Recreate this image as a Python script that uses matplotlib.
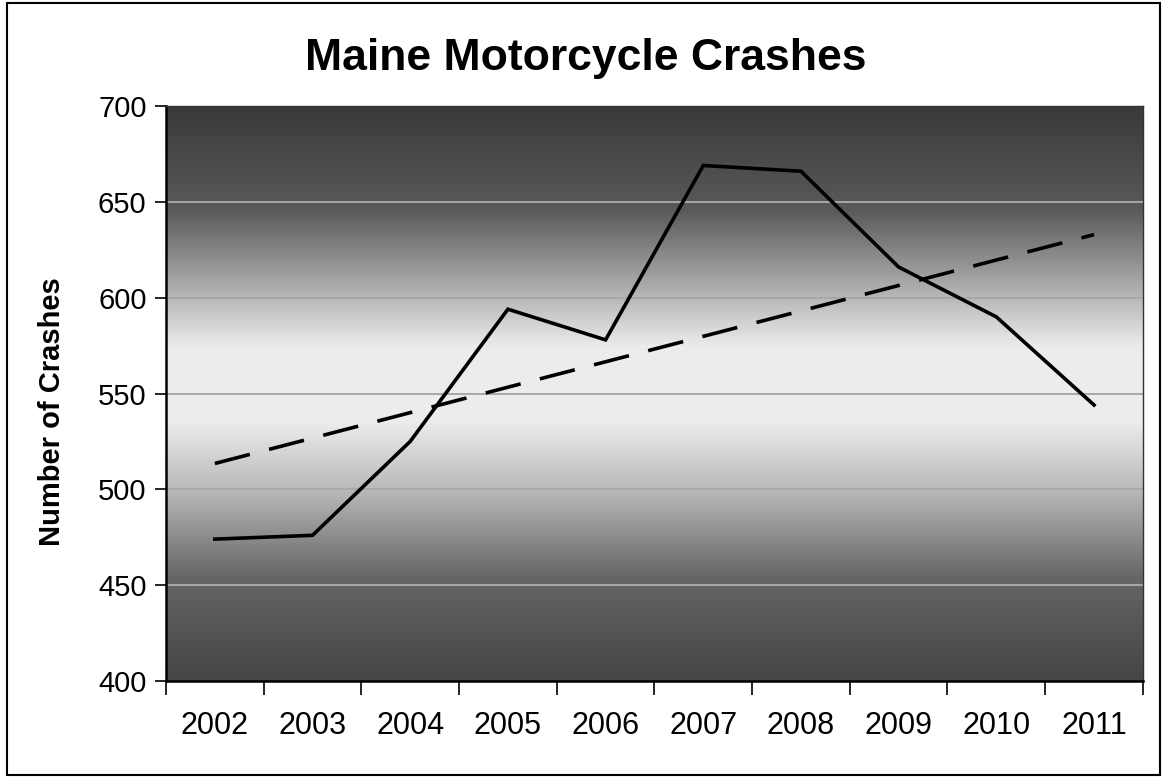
import numpy as np
import matplotlib.pyplot as plt
from matplotlib.colors import LinearSegmentedColormap
from matplotlib.patches import Rectangle

years = ['2002', '2003', '2004', '2005', '2006', '2007', '2008', '2009', '2010', '2011']
crashes = [474, 476, 525, 594, 578, 669, 666, 616, 590, 544]

plt.rcParams['font.family'] = ['Liberation Sans', 'DejaVu Sans']

fig = plt.figure(figsize=(11.65, 7.8), dpi=100)
ax = fig.add_axes([0.1425, 0.127, 0.8385, 0.737])

x = np.arange(len(years))

# grey band background, dark at top and bottom, light in the middle
stops = [(0.0, '#454545'), (0.18, '#666666'), (0.33, '#b8b8b8'), (0.45, '#ececec'),
         (0.58, '#ededed'), (0.68, '#b0b0b0'), (0.82, '#5a5a5a'), (1.0, '#3a3a3a')]
cmap = LinearSegmentedColormap.from_list('band', stops)
grad = np.linspace(0, 1, 256).reshape(-1, 1)
ax.imshow(grad, cmap=cmap, aspect='auto', extent=(-0.5, 9.5, 400, 700),
          origin='lower', zorder=0, interpolation='bilinear')

# horizontal gridlines
for v in range(450, 700, 50):
    ax.axhline(v, color='#a8a8a8', lw=1.4, zorder=1)

ax.plot(x, crashes, color='black', lw=2.6, solid_joinstyle='miter', zorder=3)

# linear trend over the years
k, b = np.polyfit(x, crashes, 1)
ax.plot(x, k * x + b, color='black', lw=2.6, dashes=(10, 5.5), zorder=3)

ax.set_xlim(-0.5, 9.5)
ax.set_ylim(400, 700)
ax.set_yticks(range(400, 701, 50))
ax.set_xticks(x)
ax.set_xticklabels(years)
ax.set_xticks(np.arange(-0.5, 10, 1), minor=True)
ax.tick_params(axis='x', which='major', length=0, pad=22, labelsize=22)
ax.tick_params(axis='x', which='minor', length=10, width=1.2, direction='out')
ax.tick_params(axis='y', length=8, width=1.2, direction='out', pad=6, labelsize=21)

for side in ['left', 'bottom']:
    ax.spines[side].set_linewidth(1.8)
for side in ['top', 'right']:
    ax.spines[side].set_linewidth(1.0)
    ax.spines[side].set_color('#333333')

fig.text(0.0446, 0.4724, 'Number of Crashes', rotation=90, ha='center', va='center',
         fontsize=21, fontweight='bold')
fig.text(0.503, 0.910, 'Maine Motorcycle Crashes', ha='center', va='baseline',
         fontsize=32, fontweight='bold')

# outer chart border
fig.patches.append(Rectangle((0.006, 0.006), 0.99, 0.99, transform=fig.transFigure,
                             fill=False, edgecolor='black', lw=1.5))

fig.savefig('out.png', dpi=100)
